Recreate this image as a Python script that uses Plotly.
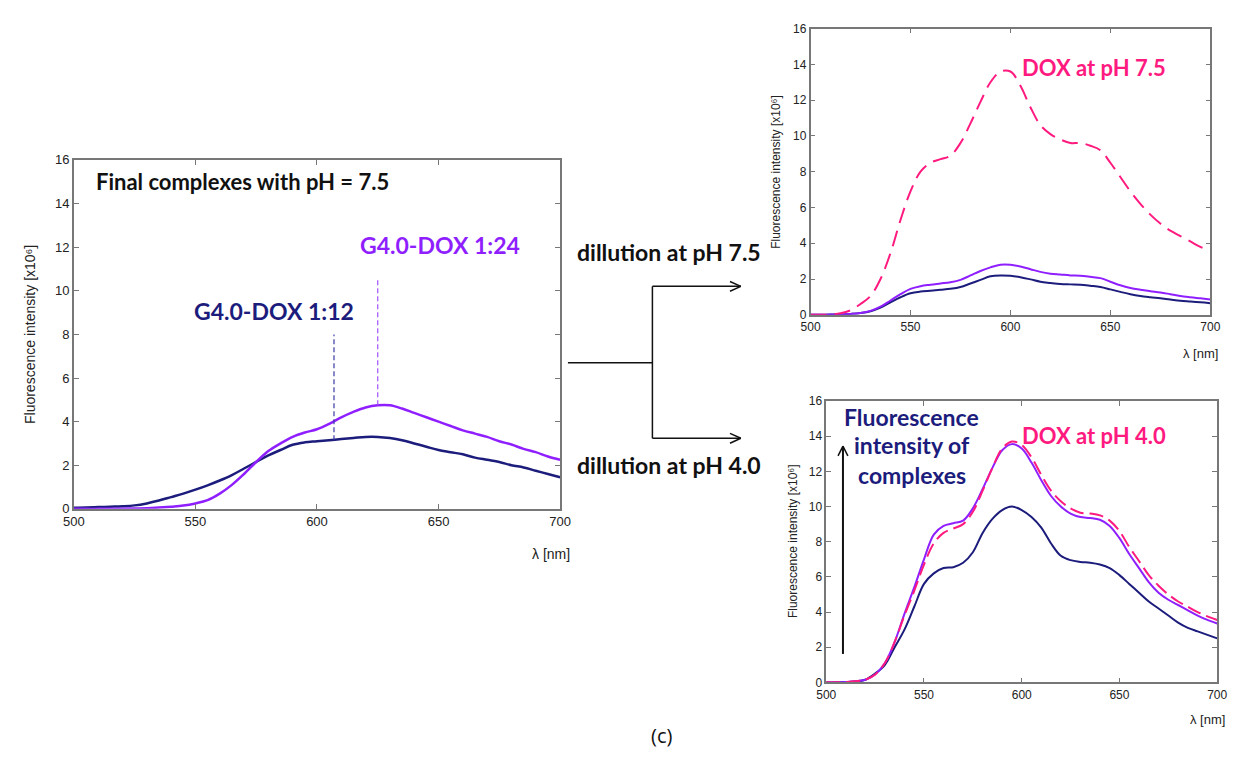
import plotly.graph_objects as go

W, H = 1239, 758

# ---------------- data ----------------
wavelength = list(range(500, 701, 5))

# left panel: final complexes at pH 7.5
final_1_12 = [0.05, 0.06, 0.08, 0.10, 0.12, 0.16, 0.25, 0.38, 0.54, 0.70, 0.88, 1.08, 1.30, 1.55, 1.85, 2.15,
              2.45, 2.70, 2.94, 3.05, 3.10, 3.15, 3.20, 3.25, 3.30, 3.30, 3.25, 3.15, 3.00, 2.85, 2.70, 2.60,
              2.50, 2.35, 2.25, 2.15, 2.00, 1.90, 1.75, 1.60, 1.45]
final_1_24 = [0.00, 0.00, 0.00, 0.01, 0.01, 0.02, 0.03, 0.06, 0.10, 0.15, 0.25, 0.40, 0.70, 1.10, 1.60, 2.15,
              2.65, 3.00, 3.30, 3.50, 3.65, 3.90, 4.20, 4.45, 4.65, 4.75, 4.75, 4.60, 4.40, 4.20, 4.00, 3.80,
              3.60, 3.45, 3.30, 3.10, 2.95, 2.75, 2.60, 2.40, 2.25]
peak_lambda = [607, 625]
peak_top = [8.0, 10.6]
peak_base = [3.15, 4.75]

# top right: dilution at pH 7.5
dox_75 = [0.00, 0.00, 0.02, 0.08, 0.25, 0.60, 1.05, 2.00, 3.45, 5.30, 6.90, 8.00, 8.50, 8.70, 8.90, 9.60,
          10.70, 11.90, 13.00, 13.60, 13.60, 12.80, 11.60, 10.60, 10.10, 9.80, 9.60, 9.60, 9.45, 9.20, 8.50,
          7.70, 6.90, 6.20, 5.60, 5.10, 4.70, 4.40, 4.10, 3.80, 3.60]
dil75_1_24 = [0.00, 0.00, 0.01, 0.02, 0.05, 0.10, 0.22, 0.45, 0.80, 1.15, 1.45, 1.60, 1.68, 1.75, 1.82, 1.95,
              2.20, 2.45, 2.65, 2.80, 2.80, 2.70, 2.55, 2.40, 2.30, 2.25, 2.20, 2.18, 2.12, 2.05, 1.85,
              1.65, 1.50, 1.40, 1.32, 1.25, 1.15, 1.05, 0.98, 0.92, 0.86]
dil75_1_12 = [0.00, 0.00, 0.01, 0.02, 0.05, 0.10, 0.20, 0.40, 0.70, 0.98, 1.20, 1.30, 1.35, 1.40, 1.45, 1.55,
              1.75, 1.95, 2.15, 2.20, 2.18, 2.10, 1.98, 1.85, 1.78, 1.72, 1.70, 1.68, 1.62, 1.55, 1.42,
              1.28, 1.15, 1.05, 0.98, 0.92, 0.85, 0.78, 0.74, 0.70, 0.65]

# bottom right: dilution at pH 4.0
dox_40 = [0.00, 0.00, 0.02, 0.06, 0.15, 0.45, 1.10, 2.30, 3.80, 5.20, 6.70, 7.90, 8.50, 8.75, 9.00, 9.70,
          10.90, 12.20, 13.30, 13.70, 13.50, 12.80, 11.80, 10.90, 10.30, 9.90, 9.65, 9.60, 9.50, 9.20, 8.60,
          7.70, 6.90, 6.10, 5.50, 5.00, 4.60, 4.30, 4.00, 3.75, 3.55]
dil40_1_24 = [0.00, 0.00, 0.02, 0.06, 0.15, 0.45, 1.10, 2.30, 3.90, 5.40, 7.00, 8.40, 8.90, 9.05, 9.20, 9.90,
              11.00, 12.20, 13.20, 13.55, 13.30, 12.50, 11.50, 10.60, 10.00, 9.60, 9.40, 9.35, 9.25, 8.90, 8.20,
              7.30, 6.50, 5.70, 5.10, 4.70, 4.40, 4.10, 3.80, 3.55, 3.35]
dil40_1_12 = [0.00, 0.00, 0.02, 0.05, 0.15, 0.50, 1.00, 2.00, 3.00, 4.30, 5.60, 6.20, 6.50, 6.55, 6.80, 7.40,
              8.50, 9.30, 9.80, 10.00, 9.80, 9.40, 8.80, 7.90, 7.20, 6.95, 6.85, 6.80, 6.70, 6.50, 6.10,
              5.60, 5.10, 4.60, 4.20, 3.80, 3.40, 3.10, 2.90, 2.70, 2.50]

x_ticks = [500, 550, 600, 650, 700]
y_ticks = [0, 2, 4, 6, 8, 10, 12, 14, 16]

# ---------------- styles ----------------
NAVY = "#1c1c7c"
PURPLE = "#8f1fff"
PINK = "#ff1a7f"
BOLD_FONT = "Lato"
TICK_FONT = "Liberation Sans"


def px(x):
    return x / W


def py(y):
    return 1 - y / H


fig = go.Figure()

# left panel
fig.add_trace(go.Scatter(x=wavelength, y=final_1_12, mode="lines", line=dict(color=NAVY, width=2.5, shape="spline"),
                         xaxis="x", yaxis="y", showlegend=False))
fig.add_trace(go.Scatter(x=wavelength, y=final_1_24, mode="lines", line=dict(color=PURPLE, width=2.5, shape="spline"),
                         xaxis="x", yaxis="y", showlegend=False))
for lam, top, base, col in zip(peak_lambda, peak_top, peak_base, ["#3a3aa8", "#a050ff"]):
    fig.add_trace(go.Scatter(x=[lam, lam], y=[base, top], mode="lines",
                             line=dict(color=col, width=1.2, dash="5px,3px"),
                             xaxis="x", yaxis="y", showlegend=False))

# top right
fig.add_trace(go.Scatter(x=wavelength, y=dil75_1_12, mode="lines", line=dict(color=NAVY, width=2, shape="spline"),
                         xaxis="x2", yaxis="y2", showlegend=False))
fig.add_trace(go.Scatter(x=wavelength, y=dil75_1_24, mode="lines", line=dict(color=PURPLE, width=2, shape="spline"),
                         xaxis="x2", yaxis="y2", showlegend=False))
fig.add_trace(go.Scatter(x=wavelength, y=dox_75, mode="lines",
                         line=dict(color=PINK, width=2, dash="16px,8px", shape="spline"),
                         xaxis="x2", yaxis="y2", showlegend=False))

# bottom right
fig.add_trace(go.Scatter(x=wavelength, y=dil40_1_12, mode="lines", line=dict(color=NAVY, width=2, shape="spline"),
                         xaxis="x3", yaxis="y3", showlegend=False))
fig.add_trace(go.Scatter(x=wavelength, y=dil40_1_24, mode="lines", line=dict(color=PURPLE, width=2, shape="spline"),
                         xaxis="x3", yaxis="y3", showlegend=False))
fig.add_trace(go.Scatter(x=wavelength, y=dox_40, mode="lines",
                         line=dict(color=PINK, width=2, dash="14px,6px", shape="spline"),
                         xaxis="x3", yaxis="y3", showlegend=False))


def xaxis(domain, anchor, size):
    return dict(domain=domain, anchor=anchor, range=[500, 700], tickvals=x_ticks, ticks="inside", ticklen=5,
                tickcolor="#777", mirror="ticks", showline=True, linecolor="#777", linewidth=1.5,
                showgrid=False, zeroline=False, tickfont=dict(family=TICK_FONT, size=size, color="#222"))


def yaxis(domain, anchor, size):
    return dict(domain=domain, anchor=anchor, range=[0, 16], tickvals=y_ticks, ticks="inside", ticklen=5,
                tickcolor="#777", mirror="ticks", showline=True, linecolor="#777", linewidth=1.5,
                showgrid=False, zeroline=False, tickfont=dict(family=TICK_FONT, size=size, color="#222"))


layout = dict(
    width=W, height=H, margin=dict(l=0, r=0, t=0, b=0),
    paper_bgcolor="white", plot_bgcolor="white", showlegend=False,
    xaxis=xaxis([px(64), px(559)], "y", 13),
    yaxis=yaxis([py(512), py(156)], "x", 13),
    xaxis2=xaxis([px(814), px(1221)], "y2", 12),
    yaxis2=yaxis([py(314), py(22)], "x2", 12),
    xaxis3=xaxis([px(830), px(1228)], "y3", 12),
    yaxis3=yaxis([py(689), py(402)], "x3", 12),
)
fig.update_layout(**layout)

ann = []


def paper_text(x, y, text, size, color="#222", family=TICK_FONT, angle=0, xanchor="center", bold=False):
    if bold:
        text = "<b>" + text + "</b>"
    ann.append(dict(x=px(x), y=py(y), xref="paper", yref="paper", text=text, showarrow=False,
                    font=dict(family=family, size=size, color=color), textangle=angle,
                    xanchor=xanchor, yanchor="middle"))


# axis titles
ytitle = "Fluorescence intensity [x10⁶]"
paper_text(20, 334, ytitle, 14, angle=-90)
paper_text(779, 168, ytitle, 12, angle=-90)
paper_text(796, 545, ytitle, 12, angle=-90)
paper_text(571, 558, "λ [nm]", 14, xanchor="right")
paper_text(1231, 353, "λ [nm]", 13, xanchor="right")
paper_text(1238, 727, "λ [nm]", 13, xanchor="right")

# panel texts
paper_text(236, 178, "Final complexes with pH = 7.5", 22, color="#111", family=BOLD_FONT, bold=True)
paper_text(437, 243, "G4.0-DOX 1:24", 23, color=PURPLE, family=BOLD_FONT, bold=True)
paper_text(268, 310, "G4.0-DOX 1:12", 23, color=NAVY, family=BOLD_FONT, bold=True)
paper_text(1103, 62, "DOX at pH 7.5", 22, color=PINK, family=BOLD_FONT, bold=True)
paper_text(1103, 437, "DOX at pH 4.0", 22, color=PINK, family=BOLD_FONT, bold=True)
paper_text(917, 418, "Fluorescence", 23, color=NAVY, family=BOLD_FONT, bold=True)
paper_text(917, 447, "intensity of", 23, color=NAVY, family=BOLD_FONT, bold=True)
paper_text(917, 477, "complexes", 23, color=NAVY, family=BOLD_FONT, bold=True)
paper_text(670, 250, "dillution at pH 7.5", 23, color="#111", family=BOLD_FONT, bold=True)
paper_text(670, 467, "dillution at pH 4.0", 23, color="#111", family=BOLD_FONT, bold=True)
paper_text(662, 743, "(c)", 20, color="#111", family="Open Sans")

fig.update_layout(annotations=ann)

# connector lines and arrows (paper coordinates)
shapes = []


def seg(x0, y0, x1, y1, w=1.5):
    shapes.append(dict(type="line", xref="paper", yref="paper", x0=px(x0), y0=py(y0), x1=px(x1), y1=py(y1),
                       line=dict(color="#111", width=w)))


seg(567, 363, 653, 363)
seg(653, 285, 653, 440)
seg(653, 285, 743, 285)
seg(653, 440, 743, 440)
for yy in (285, 440):
    seg(732, yy - 5, 743, yy)
    seg(732, yy + 5, 743, yy)
# vertical arrow in bottom-right panel
seg(847, 660, 847, 448, 2)
seg(842, 458, 847, 448, 1.5)
seg(852, 458, 847, 448, 1.5)

fig.update_layout(shapes=shapes)

fig.write_html("out.html")
